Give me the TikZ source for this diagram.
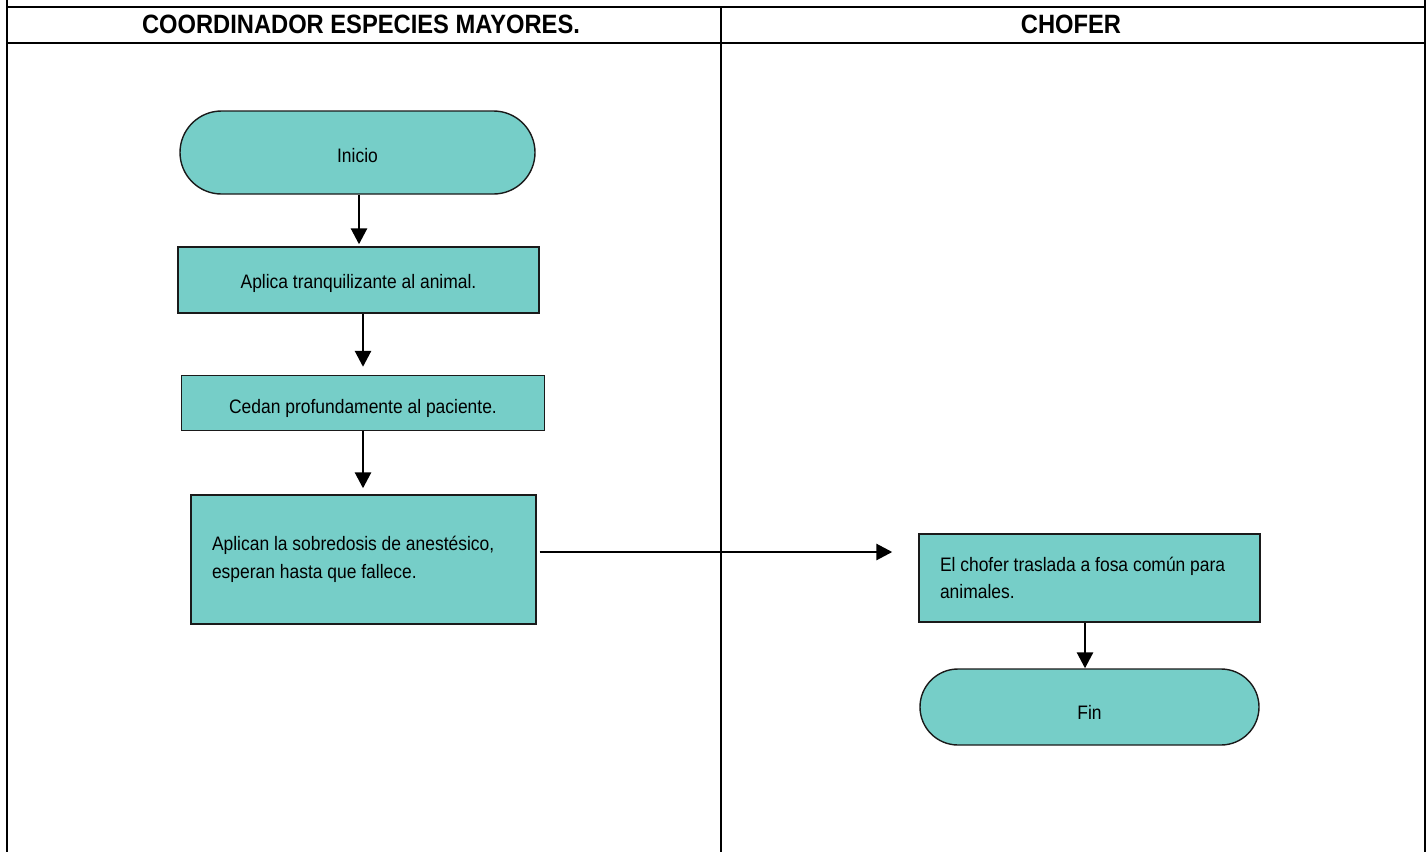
\documentclass[tikz,border=0pt]{standalone}
\usepackage{fontspec}
\setmainfont{Liberation Sans}[FakeStretch=0.895]
\usetikzlibrary{arrows.meta}
\definecolor{teal1}{HTML}{76CEC8}
\definecolor{edge1}{HTML}{1A1A1A}
\tikzset{
  lane/.style={line width=2.9pt, black},
  hdr/.style={font=\fontsize{26.5}{30}\selectfont\bfseries, inner sep=0pt},
  procbox/.style={draw=edge1, line width=1.4pt, fill=teal1, inner sep=0pt,
    font=\fontsize{19.5}{27.5}\selectfont},
  onebox/.style={procbox, text height=17.5pt, text depth=0.5pt},
  leftbox/.style={procbox, align=flush left, inner xsep=21pt},
  term/.style={draw=edge1, line width=1.4pt, fill=teal1, inner sep=0pt,
    font=\fontsize{19.5}{27.5}\selectfont, text height=17.5pt, text depth=0.5pt},
  flow/.style={line width=2.8pt, -{Triangle[length=16pt,width=16pt]}},
}
\begin{document}
\begin{tikzpicture}[x=1pt,y=-1pt]
\useasboundingbox (0,0) rectangle (1427,852);
% lanes
\draw[lane] (7,0) -- (7,852);
\draw[lane] (1425,0) -- (1425,852);
\draw[lane] (721,7) -- (721,852);
\draw[lane] (7,7) -- (1425,7);
\draw[lane] (7,43) -- (1425,43);
\node[hdr] (h1) at (361,24.5) {COORDINADOR ESPECIES MAYORES.};
\node[hdr] (h2) at (1071,24.5) {CHOFER};
% nodes
\node[term, rounded corners=41.5pt, minimum width=355pt, minimum height=83pt, text height=19.5pt] (inicio) at (357.5,152.5) {Inicio};
\node[onebox, minimum width=361pt, minimum height=66pt] (b1) at (358.5,280) {Aplica tranquilizante al animal.};
\node[onebox, minimum width=363pt, minimum height=55pt, text height=21.5pt] (b2) at (363,403) {Cedan profundamente al paciente.};
\node[leftbox, text width=303pt, minimum height=129pt] (b3) at (363.5,559.5)
  {Aplican la sobredosis de anestésico,\\esperan hasta que fallece.};
\node[leftbox, text width=299pt, minimum height=88pt] (b4) at (1089.5,578)
  {El chofer traslada a fosa común para\\animales.};
\node[term, rounded corners=38pt, minimum width=339pt, minimum height=76pt, text height=25.5pt] (fin) at (1089.5,707) {Fin};
% connectors
\draw[flow, shorten >=2pt] ([xshift=1.5pt]inicio.south) -- ([xshift=1.5pt]inicio.south |- b1.north);
\draw[flow, shorten >=8pt] (b2.north |- b1.south) -- (b2.north);
\draw[flow, shorten >=6pt] (b2.south) -- (b2.south |- b3.north);
\draw[flow, shorten <=3pt, shorten >=26pt] ([yshift=7.5pt]b3.east) -- ([yshift=26pt]b4.west);
\draw[flow] ([xshift=-4.5pt]b4.south) -- ([xshift=-4.5pt]fin.north);
\end{tikzpicture}
\end{document}
